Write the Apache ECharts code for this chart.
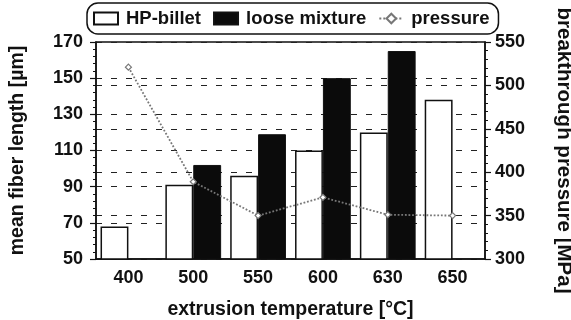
<!DOCTYPE html>
<html>
<head>
<meta charset="utf-8">
<script src="https://cdn.jsdelivr.net/npm/echarts@6/dist/echarts.min.js"></script>
<style>
  html, body { margin: 0; padding: 0; background: #fff; }
  #chart { width: 571px; height: 320px; }
</style>
</head>
<body>
<div id="chart"></div>
<script>
// extrusion temperatures [°C]
const temperatures = ["400", "500", "550", "600", "630", "650"];
// mean fiber length [µm]
const hpBillet = [68, 91, 96, 110, 120, 138];
const looseMixture = [null, 102, 119, 150, 165, null];
// breakthrough pressure [MPa]
const pressure = [521, 389, 350, 371, 351, 350];

const font = "Liberation Sans, Arial, sans-serif";
const ink = "#111";

const chart = echarts.init(document.getElementById("chart"));
chart.setOption({
  backgroundColor: "#fff",
  animation: false,
  textStyle: { fontFamily: font, color: ink },
  legend: {
    top: 3,
    left: 87,
    itemGap: 12,
    itemWidth: 24,
    itemHeight: 12,
    padding: [6, 9, 6, 6],
    borderColor: ink,
    borderWidth: 1.5,
    borderRadius: 11,
    textStyle: { fontSize: 18.5, color: ink, fontFamily: font, fontWeight: "bold", padding: [0, 0, 0, 3] },
    data: [
      { name: "HP-billet", icon: "rect" },
      { name: "loose mixture", icon: "rect" },
      { name: "pressure" }
    ]
  },
  grid: {
    left: 96, right: 86, top: 42, bottom: 61,
    show: true, borderColor: ink, borderWidth: 1.5,
    containLabel: false,
    outerBoundsMode: "none"
  },
  xAxis: {
    type: "category",
    data: temperatures,
    name: "extrusion temperature [°C]",
    nameLocation: "middle",
    nameGap: 41,
    nameTextStyle: { fontSize: 19.5, color: ink, fontWeight: "bold" },
    axisLine: { lineStyle: { color: ink, width: 1.5 } },
    axisTick: { show: false },
    axisLabel: { fontSize: 18, color: ink, margin: 10, fontWeight: "bold" }
  },
  yAxis: [
    {
      type: "value",
      min: 50, max: 170, interval: 20,
      name: "mean fiber length [µm]",
      nameLocation: "middle",
      nameGap: 68,
      nameTextStyle: { fontSize: 19.5, color: ink, fontWeight: "bold" },
      axisLine: { show: true, lineStyle: { color: ink, width: 1.5 } },
      axisTick: { show: true, length: 6, lineStyle: { color: ink, width: 1.2 } },
      minorTick: { show: true, splitNumber: 5, length: 3, lineStyle: { color: ink } },
      axisLabel: { fontSize: 18, color: ink, margin: 13, fontWeight: "bold" },
      splitLine: { show: true, lineStyle: { color: "#222", type: [6, 9], width: 1.2 } }
    },
    {
      type: "value",
      min: 300, max: 550, interval: 50,
      name: "breakthrough pressure [MPa]",
      nameLocation: "middle",
      nameGap: 68,
      nameRotate: -90,
      nameTextStyle: { fontSize: 20.5, color: ink, fontWeight: "bold" },
      axisLine: { show: true, lineStyle: { color: ink, width: 1.5 } },
      axisTick: { show: true, length: 6, lineStyle: { color: ink, width: 1.2 } },
      minorTick: { show: true, splitNumber: 5, length: 3, lineStyle: { color: ink } },
      axisLabel: { fontSize: 18, color: ink, margin: 10, fontWeight: "bold" },
      splitLine: { show: true, lineStyle: { color: "#222", type: [6, 9], width: 1.2 } }
    }
  ],
  series: [
    {
      name: "HP-billet",
      type: "bar",
      yAxisIndex: 0,
      data: hpBillet,
      barGap: "0%",
      barCategoryGap: "14%",
      itemStyle: { color: "#fff", borderColor: ink, borderWidth: 1.5 }
    },
    {
      name: "loose mixture",
      type: "bar",
      yAxisIndex: 0,
      data: looseMixture,
      itemStyle: { color: "#0b0b0b", borderColor: ink, borderWidth: 1 }
    },
    {
      name: "pressure",
      type: "line",
      yAxisIndex: 1,
      data: pressure,
      symbol: "diamond",
      symbolSize: 6,
      itemStyle: { color: "#fff", borderColor: "#777", borderWidth: 1.2 },
      lineStyle: { color: "#777", width: 1.8, type: "dotted" },
      z: 5
    }
  ]
});
</script>
</body>
</html>
